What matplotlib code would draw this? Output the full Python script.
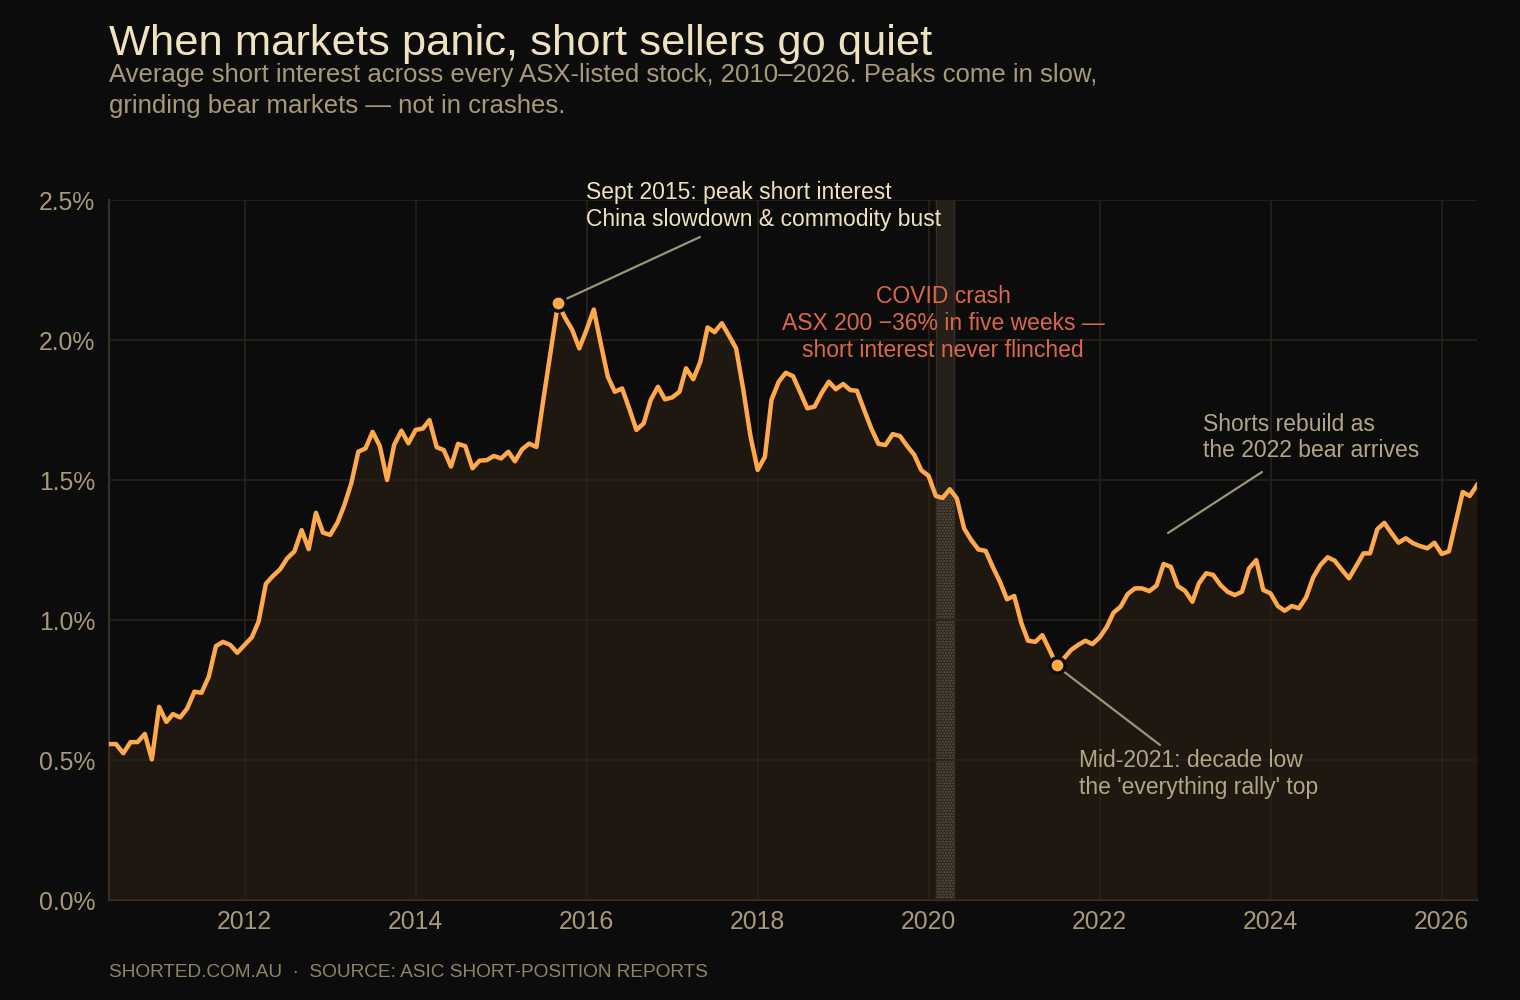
import matplotlib
matplotlib.use("Agg")
import matplotlib.pyplot as plt
import numpy as np
import pandas as pd

plt.rcParams['font.family'] = ['Liberation Sans', 'DejaVu Sans']

# ---- data (monthly average short interest, %) ----
start_month = "2010-06-01"
short_interest = [
    0.557, 0.557, 0.524, 0.564, 0.564, 0.593, 0.502, 0.690, 0.636, 0.664,
    0.652, 0.684, 0.744, 0.740, 0.797, 0.907, 0.922, 0.911, 0.883, 0.911,
    0.938, 0.994, 1.129, 1.157, 1.181, 1.220, 1.245, 1.321, 1.253, 1.383,
    1.312, 1.304, 1.348, 1.407, 1.488, 1.601, 1.613, 1.672, 1.621, 1.500,
    1.625, 1.676, 1.631, 1.679, 1.684, 1.714, 1.617, 1.607, 1.548, 1.629,
    1.621, 1.542, 1.569, 1.571, 1.586, 1.577, 1.601, 1.567, 1.610, 1.630,
    1.618, 1.790, 1.960, 2.131, 2.080, 2.036, 1.970, 2.036, 2.109, 1.990,
    1.869, 1.815, 1.827, 1.756, 1.679, 1.702, 1.786, 1.833, 1.788, 1.795,
    1.815, 1.899, 1.860, 1.922, 2.045, 2.028, 2.060, 2.015, 1.970, 1.821,
    1.658, 1.536, 1.583, 1.786, 1.851, 1.883, 1.871, 1.815, 1.756, 1.762,
    1.810, 1.851, 1.824, 1.843, 1.821, 1.819, 1.750, 1.685, 1.629, 1.625,
    1.664, 1.657, 1.622, 1.590, 1.535, 1.515, 1.443, 1.436, 1.467, 1.434,
    1.327, 1.286, 1.252, 1.247, 1.190, 1.137, 1.074, 1.086, 0.988, 0.926,
    0.922, 0.946, 0.893, 0.839, 0.863, 0.893, 0.911, 0.926, 0.914, 0.938,
    0.976, 1.026, 1.048, 1.093, 1.113, 1.113, 1.103, 1.123, 1.200, 1.190,
    1.121, 1.104, 1.065, 1.131, 1.167, 1.161, 1.125, 1.101, 1.089, 1.101,
    1.184, 1.214, 1.107, 1.095, 1.050, 1.033, 1.050, 1.042, 1.081, 1.152,
    1.196, 1.224, 1.212, 1.179, 1.149, 1.193, 1.238, 1.238, 1.324, 1.347,
    1.310, 1.276, 1.292, 1.274, 1.264, 1.256, 1.276, 1.236, 1.245, 1.345,
    1.457, 1.443, 1.482,
]
peak_month = "2015-09-01"
trough_month = "2021-07-01"
covid_start = "2020-02-01"
covid_end = "2020-04-20"
y_ticks = [0.0, 0.5, 1.0, 1.5, 2.0, 2.5]
x_tick_years = [2012, 2014, 2016, 2018, 2020, 2022, 2024, 2026]

title = "When markets panic, short sellers go quiet"
subtitle_lines = ["Average short interest across every ASX-listed stock, 2010\u20132026. Peaks come in slow,",
                  "grinding bear markets \u2014 not in crashes."]
footer = "SHORTED.COM.AU  \u00b7  SOURCE: ASIC SHORT-POSITION REPORTS"

# ---- colours ----
BG = "#0c0c0c"
LINE = "#ffa94d"
GRID = "#2a2219"
SPINE = "#3a3026"
TICK = "#a89a78"
TITLE_C = "#efe2bf"
SUB_C = "#a89a78"
ANN_C = "#efe2bf"
ANN2_C = "#b3a684"
COVID_C = "#d9684a"
CONN_C = "#9c957a"
ANN_FS = 16.5

dates = pd.date_range(start_month, periods=len(short_interest), freq="MS")
vals = np.array(short_interest)

fig = plt.figure(figsize=(15.2, 10), dpi=100, facecolor=BG)
ax = fig.add_axes([109/1520, 0.1, (1477-109)/1520, 0.7])
ax.set_facecolor(BG)

# area fill
fill = ax.fill_between(dates, 0, vals, color=LINE, alpha=0.08, linewidth=0, zorder=1)

# covid band
cs, ce = pd.Timestamp(covid_start), pd.Timestamp(covid_end)
ax.axvspan(cs, ce, color="#3a2f27", alpha=0.55, linewidth=0, zorder=1.5)
hatch = ax.axvspan(cs, ce, facecolor="none", edgecolor="#5e544a", hatch="......",
                   linewidth=0, zorder=1.6)
hatch.set_clip_path(fill.get_paths()[0], transform=ax.transData)
ax.axvline(cs, color="#3a2f27", lw=1, zorder=1.6)
ax.axvline(ce, color="#3a2f27", lw=1, zorder=1.6)

# grid / ticks
ax.set_yticks(y_ticks)
ax.set_yticklabels([f"{t:.1f}%" for t in y_ticks])
ax.set_xticks([pd.Timestamp(f"{y}-01-01") for y in x_tick_years])
ax.set_xticklabels([str(y) for y in x_tick_years])
ax.grid(True, color=GRID, linewidth=1.2, zorder=2)
ax.set_axisbelow(False)
for gl in ax.get_xgridlines() + ax.get_ygridlines():
    gl.set_zorder(2)

ax.plot(dates, vals, color=LINE, lw=3.2, zorder=4, solid_joinstyle="round")

ax.set_xlim(dates[0], dates[-1])
ax.set_ylim(0, 2.5)
ax.tick_params(axis="both", length=0, colors=TICK, labelsize=17.8)
ax.tick_params(axis="x", pad=7)
ax.tick_params(axis="y", pad=10)
for s in ["top", "right"]:
    ax.spines[s].set_visible(False)
for s in ["left", "bottom"]:
    ax.spines[s].set_color(SPINE)
    ax.spines[s].set_linewidth(1.5)

# markers
pk = pd.Timestamp(peak_month)
tr = pd.Timestamp(trough_month)
pk_v = vals[list(dates).index(pk)]
tr_v = vals[list(dates).index(tr)]
ax.plot([pk], [pk_v], "o", ms=11, mfc=LINE, mec=BG, mew=2.5, zorder=6)
ax.plot([tr], [tr_v], "o", ms=11, mfc=LINE, mec=BG, mew=2.5, zorder=6)

def connector(p0, p1):
    ax.annotate("", xy=(p0[0], 1000 - p0[1]), xytext=(p1[0], 1000 - p1[1]),
                xycoords="figure pixels", textcoords="figure pixels",
                arrowprops=dict(arrowstyle="-", color=CONN_C, lw=1.6, shrinkA=0, shrinkB=0))

# annotations
fig.text(586/1520, 1-206/1000, "Sept 2015: peak short interest\nChina slowdown & commodity bust",
         color=ANN_C, fontsize=ANN_FS, ha="left", va="center", linespacing=1.2)
connector((566, 299), (700, 237))

fig.text(943/1520, 1-323.5/1000, "COVID crash\nASX 200 \u221236% in five weeks \u2014\nshort interest never flinched",
         color=COVID_C, fontsize=ANN_FS, ha="center", va="center", linespacing=1.2)

fig.text(1203/1520, 1-437.5/1000, "Shorts rebuild as\nthe 2022 bear arrives",
         color=ANN2_C, fontsize=ANN_FS, ha="left", va="center", linespacing=1.2)
connector((1168, 533), (1262, 472))

fig.text(1079/1520, 1-774/1000, "Mid-2021: decade low\nthe 'everything rally' top",
         color=ANN2_C, fontsize=ANN_FS, ha="left", va="center", linespacing=1.2)
connector((1063, 671), (1160, 745))

# titles
fig.text(109/1520, 1-55/1000, title, color=TITLE_C, fontsize=31.3, ha="left", va="baseline")
fig.text(109/1520, 1-82/1000, subtitle_lines[0], color=SUB_C, fontsize=18.5, ha="left", va="baseline")
fig.text(109/1520, 1-113/1000, subtitle_lines[1], color=SUB_C, fontsize=18.5, ha="left", va="baseline")
fig.text(109/1520, 1-977/1000, footer, color="#8f8466", fontsize=13.7, ha="left", va="baseline")

fig.savefig("out.png", dpi=100, facecolor=BG)
